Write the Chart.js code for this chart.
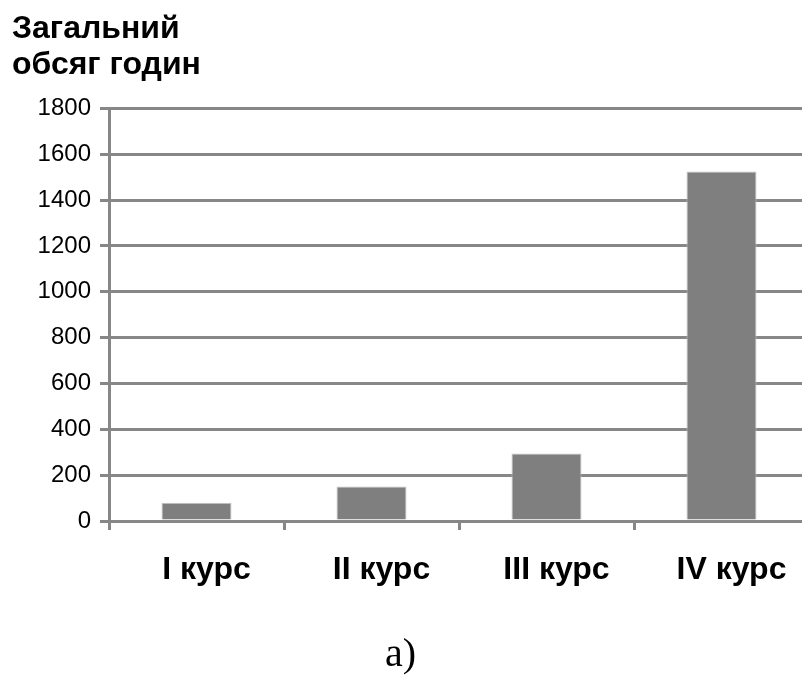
<!DOCTYPE html>
<html lang="uk">
<head>
    <meta charset="UTF-8">
    <title>Загальний обсяг годин</title>
    <script src="https://cdn.jsdelivr.net/npm/chart.js"></script>
    <style>
        html, body {
            margin: 0;
            padding: 0;
            overflow: hidden;
            background: #fff;
        }
        #wrap {
            width: 812px;
            height: 675px;
        }
    </style>
</head>
<body>
    <div id="wrap">
        <canvas id="myChart" width="812" height="675"></canvas>
    </div>
    <script>
        // data
        var courses = ['I курс', 'II курс', 'III курс', 'IV курс'];
        var hours = [80, 150, 295, 1525];
        var yTicks = [0, 200, 400, 600, 800, 1000, 1200, 1400, 1600, 1800];

        var gridGrey = '#878787';
        var sans = '"Liberation Sans", Arial, sans-serif';

        var ctx = document.getElementById('myChart').getContext('2d');
        var myChart = new Chart(ctx, {
            type: 'bar',
            data: {
                labels: courses,
                datasets: [{
                    label: 'Загальний обсяг годин',
                    data: hours,
                    backgroundColor: '#7f7f7f',
                    borderColor: '#c4c4c4',
                    borderWidth: 1,
                    barPercentage: 0.4,
                    categoryPercentage: 1.0
                }]
            },
            options: {
                responsive: false,
                animation: false,
                layout: {
                    padding: { left: 12, right: 3, top: 4, bottom: 0 }
                },
                plugins: {
                    legend: { display: false },
                    tooltip: { enabled: false },
                    title: {
                        display: true,
                        text: ['Загальний', 'обсяг годин'],
                        align: 'start',
                        color: '#000',
                        font: { family: sans, size: 32, weight: 'bold', lineHeight: 1.1 },
                        padding: { top: 8, bottom: 26 }
                    },
                    subtitle: {
                        display: true,
                        position: 'bottom',
                        // trailing spaces nudge the caption left to the page centre
                        text: 'а)\u00a0\u00a0',
                        color: '#000',
                        font: { family: '"Liberation Serif", "Times New Roman", serif', size: 40, weight: 'normal', lineHeight: 1.0 },
                        padding: { top: 0, bottom: 0 }
                    }
                },
                scales: {
                    x: {
                        grid: {
                            offset: true,
                            drawOnChartArea: false,
                            drawTicks: true,
                            tickLength: 9,
                            lineWidth: 3,
                            color: gridGrey
                        },
                        border: { color: gridGrey, width: 3 },
                        ticks: {
                            color: '#000',
                            padding: 21,
                            labelOffset: 10,
                            maxRotation: 0,
                            font: { family: sans, size: 32, weight: 'bold' }
                        },
                        afterFit: function(scale) { scale.height = 114; }
                    },
                    y: {
                        min: 0,
                        max: 1800,
                        afterBuildTicks: function(scale) {
                            scale.ticks = yTicks.map(function(v) { return { value: v }; });
                        },
                        grid: {
                            drawTicks: true,
                            tickLength: 9,
                            lineWidth: 3,
                            color: gridGrey
                        },
                        border: { color: gridGrey, width: 3 },
                        ticks: {
                            color: '#000',
                            padding: 9,
                            font: { family: sans, size: 24 },
                            callback: function(value) { return String(value); }
                        },
                        afterFit: function(scale) { scale.width = 97; }
                    }
                }
            }
        });
    </script>
</body>
</html>
